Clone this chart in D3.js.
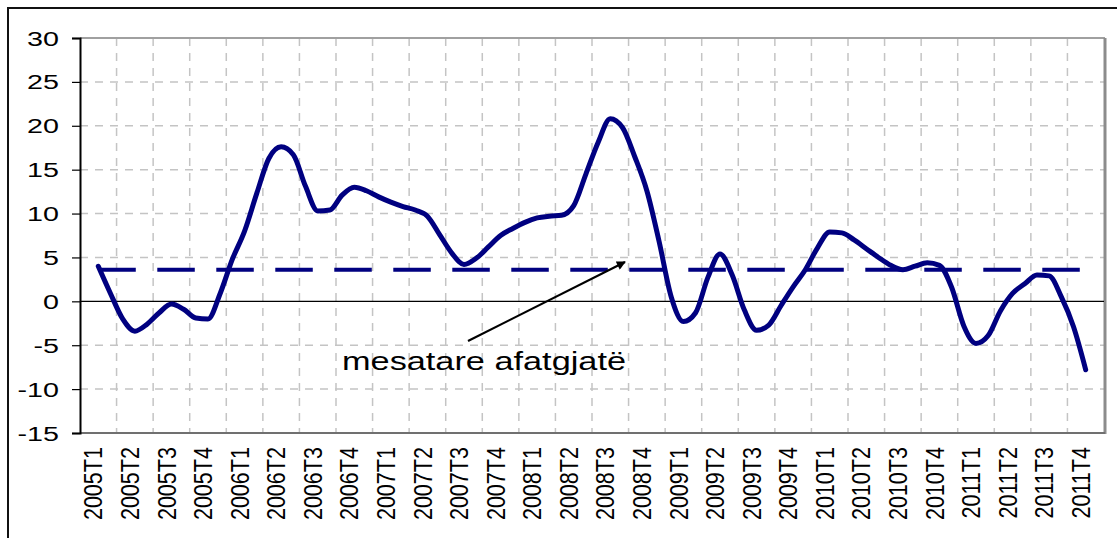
<!DOCTYPE html>
<html>
<head>
<meta charset="utf-8">
<script src="https://cdn.jsdelivr.net/npm/d3@7"></script>
<style>
    body { margin: 0; background: #fff; }
    text { font-family: "Liberation Sans", Arial, sans-serif; fill: #000; }
</style>
</head>
<body>
<script>
    // quarters shown on the category axis (3 months each)
    var quarters = [
        '2005T1', '2005T2', '2005T3', '2005T4',
        '2006T1', '2006T2', '2006T3', '2006T4',
        '2007T1', '2007T2', '2007T3', '2007T4',
        '2008T1', '2008T2', '2008T3', '2008T4',
        '2009T1', '2009T2', '2009T3', '2009T4',
        '2010T1', '2010T2', '2010T3', '2010T4',
        '2011T1', '2011T2', '2011T3', '2011T4'
    ];

    // monthly values, month index 1 .. 82 (first and last month are empty)
    var firstMonth = 1;
    var values = [
        4.0, 0.9, -2.0, -3.4, -2.6, -1.3, -0.3, -0.9, -1.9, -2.0,
        0.9, 4.8, 8.0, 12.3, 16.3, 17.6, 16.7, 13.1, 10.3, 10.4,
        12.1, 13.0, 12.6, 11.9, 11.3, 10.8, 10.4, 9.7, 7.6, 5.5,
        4.2, 4.9, 6.2, 7.5, 8.3, 9.0, 9.5, 9.7, 9.8, 10.9,
        14.5, 18.1, 20.8, 19.8, 16.5, 12.6, 6.85, 0.5, -2.3, -1.3,
        2.7, 5.4, 3.0, -1.0, -3.3, -2.7, -0.5, 1.65, 3.6, 6.1,
        7.9, 7.8, 7.0, 6.0, 5.0, 4.1, 3.6, 4.0, 4.4, 4.1,
        1.6, -2.8, -4.8, -3.9, -1.1, 0.9, 2.0, 3.0, 2.9, 0.5,
        -2.9, -7.8
    ];

    var longTermMean = 3.6;
    var meanLabel = 'mesatare afatgjatë';

    var yTicks = [-15, -10, -5, 0, 5, 10, 15, 20, 25, 30];

    var W = 1117, H = 538;
    var pLeft = 80, pRight = 1104, pTop = 38, pBottom = 433;
    var nMonths = quarters.length * 3;

    var svg = d3.select('body').append('svg')
        .attr('width', W)
        .attr('height', H);

    // outer chart frame (runs off the right and bottom of the picture)
    svg.append('rect')
        .attr('x', 8).attr('y', 8)
        .attr('width', W + 20).attr('height', H + 20)
        .attr('fill', 'none')
        .attr('stroke', '#111')
        .attr('stroke-width', 2);

    var x = d3.scaleLinear().domain([0, nMonths]).range([pLeft, pRight]);
    var y = d3.scaleLinear().domain([-15, 30]).range([pBottom, pTop]);

    // gridlines
    svg.append('g').selectAll('line')
        .data(yTicks.filter(d => d !== 0 && d !== 30 && d !== -15))
        .enter().append('line')
        .attr('x1', pLeft).attr('x2', pRight)
        .attr('y1', d => y(d)).attr('y2', d => y(d))
        .attr('stroke', '#c4c4c4')
        .attr('stroke-width', 1.5)
        .attr('stroke-dasharray', '8,7');

    svg.append('g').selectAll('line')
        .data(d3.range(1, quarters.length))
        .enter().append('line')
        .attr('x1', d => x(d * 3)).attr('x2', d => x(d * 3))
        .attr('y1', pTop).attr('y2', pBottom)
        .attr('stroke', '#c4c4c4')
        .attr('stroke-width', 1.5)
        .attr('stroke-dasharray', '8,7');

    // plot area border
    svg.append('line')
        .attr('x1', pLeft).attr('x2', pRight + 1)
        .attr('y1', pTop).attr('y2', pTop)
        .attr('stroke', '#a0a0a0').attr('stroke-width', 2);
    svg.append('line')
        .attr('x1', pRight + 1).attr('x2', pRight + 1)
        .attr('y1', pTop).attr('y2', pBottom + 1)
        .attr('stroke', '#8c8c8c').attr('stroke-width', 3);
    svg.append('line')
        .attr('x1', pLeft).attr('x2', pRight + 1)
        .attr('y1', pBottom).attr('y2', pBottom)
        .attr('stroke', '#707070').attr('stroke-width', 2);

    // zero line
    svg.append('line')
        .attr('x1', pLeft).attr('x2', pRight)
        .attr('y1', y(0)).attr('y2', y(0))
        .attr('stroke', '#000').attr('stroke-width', 1.2);

    // value axis
    var yAxis = svg.append('g')
        .attr('transform', 'translate(' + pLeft + ',0)')
        .call(d3.axisLeft(y).tickValues(yTicks).tickSize(8));
    yAxis.select('.domain').attr('stroke', '#000').attr('stroke-width', 2);
    yAxis.selectAll('.tick line').attr('stroke', '#000').attr('stroke-width', 1.2);
    yAxis.selectAll('.tick text')
        .attr('x', null).attr('dy', null)
        .attr('font-size', 20.5)
        .attr('font-family', '"Liberation Sans", Arial, sans-serif')
        .attr('text-anchor', 'end')
        .attr('transform', 'translate(-21,7) scale(1.4,1)')
        .text(d => String(d));

    // category labels
    svg.append('g').selectAll('text')
        .data(quarters)
        .enter().append('text')
        .attr('transform', (d, i) => 'translate(' + (x(i * 3 + 1.5) - 5) + ',447) rotate(-90) scale(0.98,1.15)')
        .attr('dy', '0.36em')
        .attr('text-anchor', 'end')
        .attr('font-size', 22)
        .text(d => d);

    var pts = values.map((v, i) => ({ m: firstMonth + i + 0.5, v: v }));

    var line = d3.line()
        .x(d => x(d.m))
        .y(d => y(d.v));

    // long-term mean (dashed)
    svg.append('path')
        .datum(pts.map(d => ({ m: d.m, v: longTermMean })))
        .attr('d', line)
        .attr('fill', 'none')
        .attr('stroke', '#000080')
        .attr('stroke-width', 4.2)
        .attr('stroke-dasharray', '37.5,21.5');

    // main series
    svg.append('path')
        .datum(pts)
        .attr('d', line.curve(d3.curveMonotoneX))
        .attr('fill', 'none')
        .attr('stroke', '#000080')
        .attr('stroke-width', 5)
        .attr('stroke-linejoin', 'round')
        .attr('stroke-linecap', 'round');

    // annotation
    svg.append('defs').append('marker')
        .attr('id', 'arrow')
        .attr('viewBox', '0 0 10 10')
        .attr('refX', 9).attr('refY', 5)
        .attr('markerWidth', 13).attr('markerHeight', 9)
        .attr('markerUnits', 'userSpaceOnUse')
        .attr('orient', 'auto')
        .append('path')
        .attr('d', 'M0,0 L10,5 L0,10 z')
        .attr('fill', '#000');

    svg.append('line')
        .attr('x1', 468).attr('y1', 341)
        .attr('x2', 625).attr('y2', 262)
        .attr('stroke', '#000')
        .attr('stroke-width', 2.2)
        .attr('marker-end', 'url(#arrow)');

    svg.append('text')
        .attr('x', 342).attr('y', 370)
        .attr('font-size', 25)
        .attr('textLength', 284)
        .attr('lengthAdjust', 'spacingAndGlyphs')
        .text(meanLabel);
</script>
</body>
</html>
